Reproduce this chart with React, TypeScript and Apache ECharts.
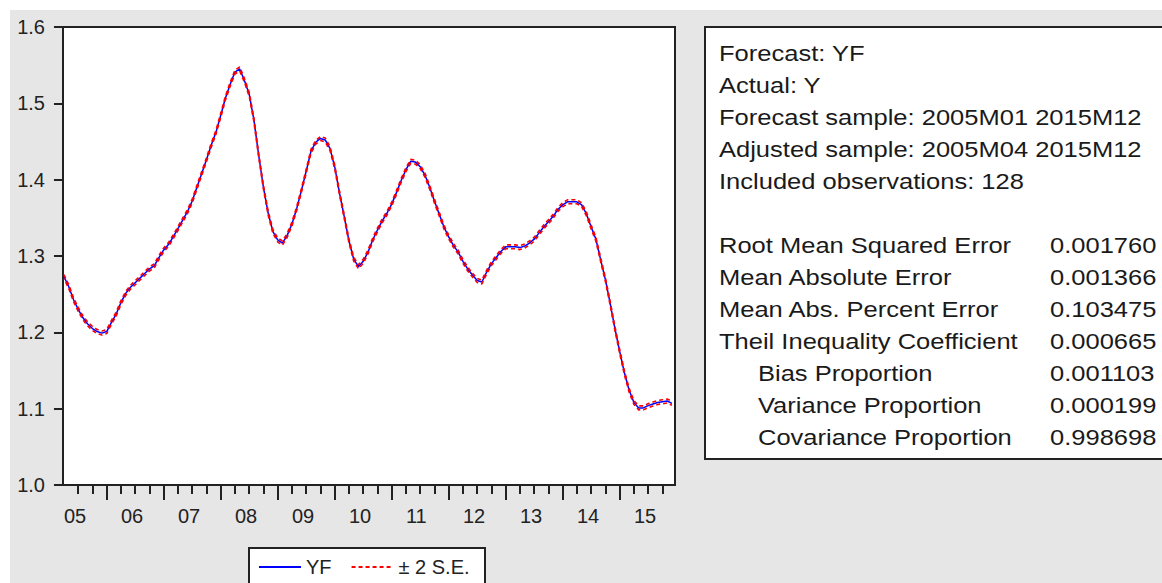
import React, { useEffect, useRef } from "react";
import * as echarts from "echarts";

// x axis: monthly observations 2005M04 .. 2015M12 (index 0 = 2005M04)
const yearLabels = ["05", "06", "07", "08", "09", "10", "11", "12", "13", "14", "15"];

// Forecast YF, monthly
const yf = [
  1.273, 1.260, 1.243, 1.230, 1.219, 1.211, 1.205, 1.201, 1.199,
  1.201, 1.213, 1.224, 1.239, 1.251, 1.259, 1.265, 1.271, 1.277, 1.283, 1.287, 1.298,
  1.308, 1.315, 1.325, 1.336, 1.347, 1.358, 1.372, 1.390, 1.408, 1.426, 1.445, 1.462,
  1.484, 1.507, 1.525, 1.541, 1.545, 1.530, 1.512, 1.478, 1.432, 1.390, 1.356, 1.332,
  1.321, 1.317, 1.327, 1.342, 1.362, 1.386, 1.411, 1.437, 1.449, 1.454, 1.452, 1.441,
  1.417, 1.383, 1.352, 1.320, 1.296, 1.286, 1.293, 1.305, 1.321, 1.334, 1.346, 1.356,
  1.368, 1.383, 1.399, 1.413, 1.424, 1.423, 1.417, 1.406, 1.390, 1.372, 1.355, 1.338,
  1.325, 1.314, 1.305, 1.293, 1.283, 1.275, 1.268, 1.266, 1.279, 1.290, 1.298, 1.306,
  1.312, 1.312, 1.312, 1.311, 1.313, 1.317, 1.322, 1.330, 1.338, 1.345, 1.352, 1.361,
  1.367, 1.371, 1.371, 1.371, 1.367, 1.355, 1.338, 1.322, 1.295, 1.269, 1.238, 1.205,
  1.175, 1.147, 1.124, 1.108, 1.101, 1.101, 1.104, 1.106, 1.108, 1.109, 1.110, 1.107,
];

// forecast standard error (approx.)
const forecastSE = 0.0013;

const headerLines = [
  "Forecast: YF",
  "Actual: Y",
  "Forecast sample: 2005M01 2015M12",
  "Adjusted sample: 2005M04 2015M12",
  "Included observations: 128",
];
const statLabels = [
  "Root Mean Squared Error",
  "Mean Absolute Error",
  "Mean Abs. Percent Error",
  "Theil Inequality Coefficient",
  "Bias Proportion",
  "Variance Proportion",
  "Covariance Proportion",
];
const statIndented = [false, false, false, false, true, true, true];
const statValues = ["0.001760", "0.001366", "0.103475", "0.000665", "0.001103", "0.000199", "0.998698"];

const FONT = "'Liberation Sans', Arial, sans-serif";
const INK = "#222";

export default function App() {
  const ref = useRef<HTMLDivElement>(null);

  useEffect(() => {
    if (!ref.current) return;
    const chart = echarts.init(ref.current, undefined, { renderer: "svg" });

    const n = yf.length;
    const upper = yf.map((v) => v + 2 * forecastSE);
    const lower = yf.map((v) => v - 2 * forecastSE);
    const quarterTicks: number[] = [];
    for (let i = 3; i < n; i += 3) quarterTicks.push(i);
    const yearTicks: number[] = [];
    for (let i = 9; i < n; i += 12) yearTicks.push(i);
    const labelPos = yearLabels.map((_, k) => k * 12);

    const xMin = -0.2;
    const xMax = 128.65;

    const textEls: any[] = [];
    headerLines.forEach((t, k) => {
      textEls.push({
        type: "text",
        x: 719,
        y: 53 + k * 32,
        scaleX: 1.16,
        style: { text: t, fontSize: 22, fontFamily: FONT, fill: "#1a1a1a", verticalAlign: "middle" },
      });
    });
    statLabels.forEach((t, k) => {
      textEls.push({
        type: "text",
        x: statIndented[k] ? 758 : 719,
        y: 245 + k * 32,
        scaleX: 1.16,
        style: { text: t, fontSize: 22, fontFamily: FONT, fill: "#1a1a1a", verticalAlign: "middle" },
      });
      textEls.push({
        type: "text",
        x: 1050,
        y: 245 + k * 32,
        scaleX: 1.16,
        style: { text: statValues[k], fontSize: 22, fontFamily: FONT, fill: "#1a1a1a", verticalAlign: "middle" },
      });
    });

    const option: any = {
      animation: false,
      textStyle: { fontFamily: FONT },
      grid: {
        left: 63,
        top: 27,
        width: 612,
        height: 458,
        show: true,
        backgroundColor: "#fff",
        borderColor: INK,
        borderWidth: 2,
      },
      xAxis: [
        {
          type: "value",
          position: "bottom",
          min: xMin,
          max: xMax,
          axisLine: { show: false },
          splitLine: { show: false },
          axisTick: {
            show: true,
            length: 9,
            customValues: quarterTicks,
            lineStyle: { color: INK, width: 2 },
          },
          axisLabel: {
            show: true,
            customValues: labelPos,
            formatter: (v: number) => yearLabels[Math.round(v / 12)] ?? "",
            align: "left",
            margin: 21,
            fontSize: 20,
            color: INK,
            fontFamily: FONT,
          },
        },
        {
          type: "value",
          position: "bottom",
          min: xMin,
          max: xMax,
          axisLine: { show: false },
          splitLine: { show: false },
          axisTick: {
            show: true,
            length: 15,
            customValues: yearTicks,
            lineStyle: { color: INK, width: 2 },
          },
          axisLabel: { show: false },
        },
      ],
      yAxis: {
        type: "value",
        min: 1.0,
        max: 1.6,
        interval: 0.1,
        axisLine: { show: false },
        splitLine: { show: false },
        axisTick: { show: true, length: 10, lineStyle: { color: INK, width: 2 } },
        axisLabel: {
          formatter: (v: number) => v.toFixed(1),
          margin: 18,
          fontSize: 20,
          color: INK,
          fontFamily: FONT,
        },
      },
      legend: {
        left: 258,
        top: 557,
        padding: 0,
        itemWidth: 42,
        itemHeight: 14,
        itemGap: 19,
        itemStyle: { opacity: 0 },
        textStyle: { fontSize: 20, color: INK, fontFamily: FONT },
        data: ["YF", "± 2 S.E."],
      },
      series: [
        {
          name: "YF",
          type: "line",
          xAxisIndex: 0,
          data: yf.map((v, i) => [i, v]),
          symbol: "none",
          lineStyle: { color: "#0000ff", width: 1.5 },
          itemStyle: { color: "#0000ff" },
          z: 2,
        },
        {
          name: "± 2 S.E.",
          type: "line",
          xAxisIndex: 0,
          data: upper.map((v, i) => [i, v]),
          symbol: "none",
          lineStyle: { color: "#ff0000", width: 1.6, type: [4, 3] },
          itemStyle: { color: "#ff0000" },
          z: 3,
        },
        {
          name: "± 2 S.E.",
          type: "line",
          xAxisIndex: 0,
          data: lower.map((v, i) => [i, v]),
          symbol: "none",
          lineStyle: { color: "#ff0000", width: 1.6, type: [4, 3], dashOffset: 3 },
          itemStyle: { color: "#ff0000" },
          z: 3,
        },
      ],
      graphic: [
        {
          type: "rect",
          z: -1,
          shape: { x: 249, y: 548, width: 236, height: 60 },
          style: { fill: "#fff", stroke: INK, lineWidth: 2 },
        },
        {
          type: "rect",
          shape: { x: 705, y: 27, width: 480, height: 432 },
          style: { fill: "#fff", stroke: INK, lineWidth: 2 },
        },
        ...textEls,
      ],
    };

    chart.setOption(option);
    return () => chart.dispose();
  }, []);

  return (
    <div style={{ position: "fixed", left: 0, top: 0, width: 1162, height: 583, background: "#fff" }}>
      <div
        style={{ position: "absolute", left: 10, top: 10, width: 1152, height: 573, background: "#e6e6e6" }}
      />
      <div ref={ref} style={{ position: "absolute", left: 0, top: 0, width: 1162, height: 583 }} />
    </div>
  );
}
